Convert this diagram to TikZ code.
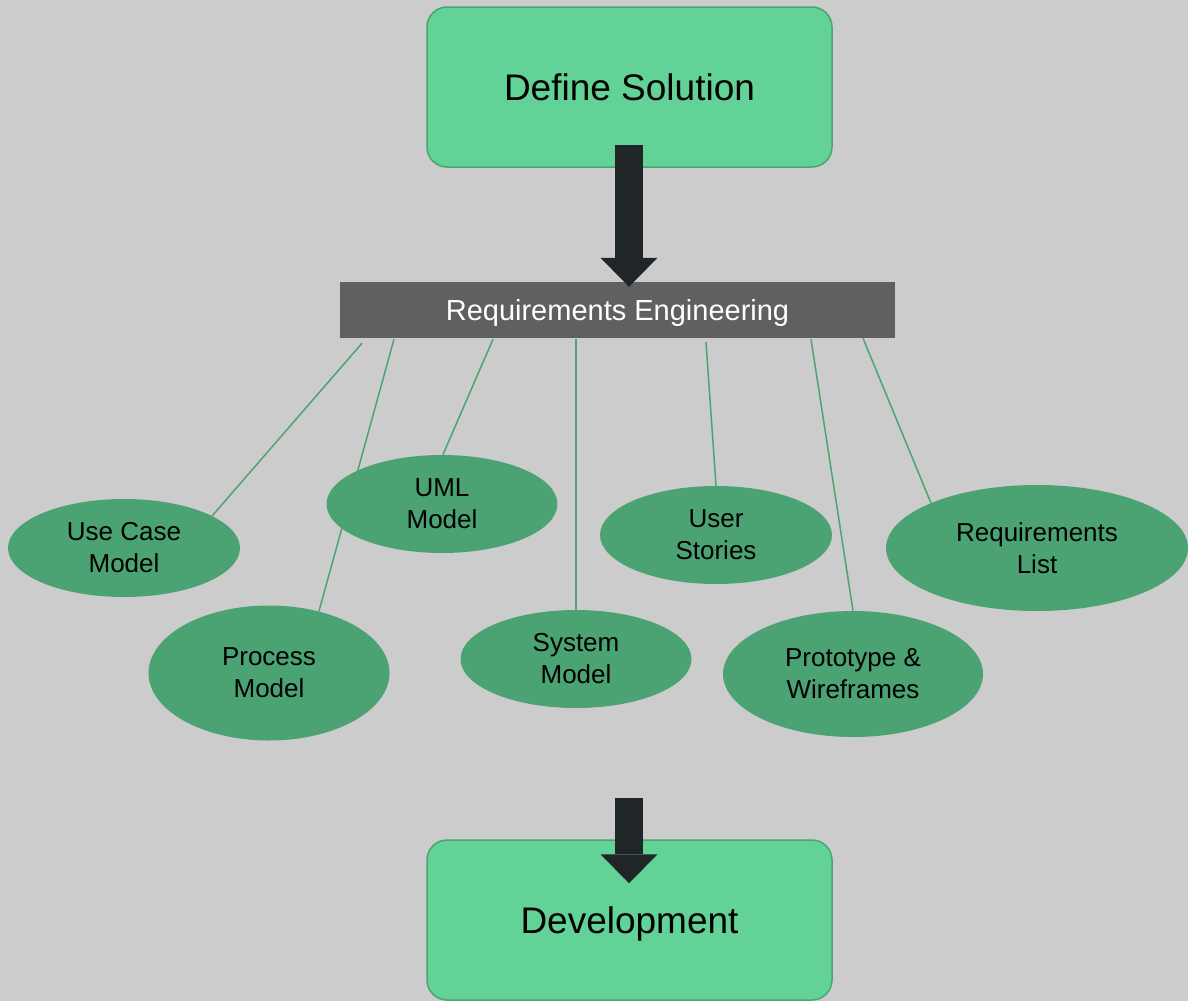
\documentclass[tikz,border=0pt]{standalone}
\usepackage{fontspec}
\setmainfont{Liberation Sans}
\usetikzlibrary{shapes.geometric}
\usetikzlibrary{arrows.meta}
\usetikzlibrary{calc}
\usetikzlibrary{backgrounds}
\definecolor{canvas}{HTML}{CCCCCC}
\definecolor{stagefill}{HTML}{62D296}
\definecolor{stageline}{HTML}{4CA471}
\definecolor{ovalfill}{HTML}{4BA374}
\definecolor{barfill}{HTML}{606060}
\definecolor{arrowfill}{HTML}{202628}

\begin{document}
\begin{tikzpicture}[x=1pt, y=-1pt,
    stage/.style = {draw=stageline, fill=stagefill, rounded corners=20pt,
                line width=1.5pt, minimum width=405pt, minimum height=160pt,
                text depth=0pt, font=\fontsize{37}{44}\selectfont},
    phase/.style = {fill=barfill, text=white, minimum width=555pt,
                minimum height=56pt, text depth=0pt,
                font=\fontsize{29}{34}\selectfont},
    artefact/.style = {ellipse, fill=ovalfill, inner sep=0pt, align=center,
                font=\fontsize{26}{32}\selectfont},
    link/.style = {stageline, line width=1.5pt},
    bigarrow/.style = {arrowfill, line width=28pt,
                -{Triangle[width=57pt, length=29pt, line width=0pt]}}
                    ]
        % the three stages
        \node[stage] at (629.5,87) (define) {Define Solution};
        \node[phase] at (617.5,310) (req) {Requirements Engineering};
        \node[stage] at (629.5,920) (dev) {Development};
        % outputs of requirements engineering
        \foreach \x/\y/\w/\h/\n/\t in {124/548/232/98/usecase/{Use Case\\Model},
                269/673/241/135/process/{Process\\Model},
                442/504/231/98/uml/{UML\\Model},
                576/659/231/98/system/{System\\Model},
                716/535/232/98/stories/{User\\Stories},
                853/674/260/126/proto/{Prototype \&\\Wireframes},
                1037/548/302/126/reqlist/{Requirements\\List}}
            \node[artefact, minimum width=\w pt, minimum height=\h pt] at (\x,\y) (\n) {\t};
        \begin{pgfonlayer}{background}
            \fill[canvas] (0,0) rectangle (1188,1001);
            \foreach \dx/\dy/\n/\a in {-255.5/5/usecase/20, -223.5/1/process/51,
                    -124.5/1/uml/89, -41.5/1/system/90, 88.5/4/stories/90,
                    193.5/1/proto/90, 245.5/0/reqlist/157}
                \draw[link] ($(req.south)+(\dx,\dy)$) -- (\n.\a);
        \end{pgfonlayer}
        % big arrows
        \draw[bigarrow] ($(define.south)+(-0.5,-23)$) -- ($(define.south |- req.north)+(-0.5,5)$);
        \draw[bigarrow] ($(dev.north)+(-0.5,-41)$) -- ($(dev.north)+(-0.5,44)$);
    \end{tikzpicture}
\end{document}
